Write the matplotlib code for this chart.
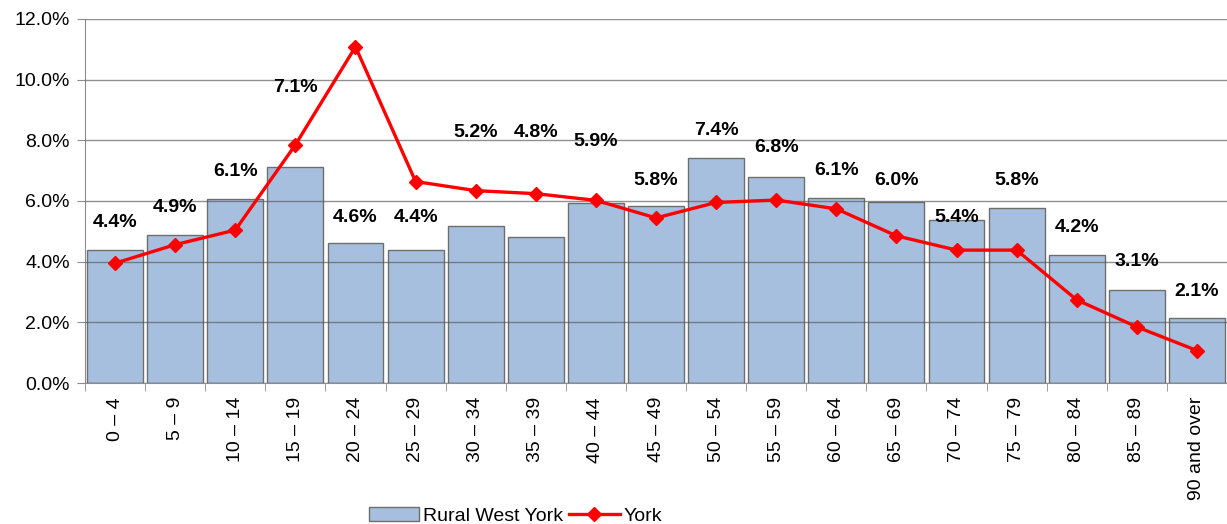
import matplotlib.pyplot as plt
import numpy as np
from matplotlib.ticker import PercentFormatter

plt.rcParams['font.family'] = ['Liberation Sans', 'DejaVu Sans']

age_groups = ['0 – 4', '5 – 9', '10 – 14', '15 – 19', '20 – 24', '25 – 29', '30 – 34',
              '35 – 39', '40 – 44', '45 – 49', '50 – 54', '55 – 59', '60 – 64', '65 – 69',
              '70 – 74', '75 – 79', '80 – 84', '85 – 89', '90 and over']
rural_west_york = [4.37, 4.87, 6.07, 7.12, 4.61, 4.38, 5.17, 4.81, 5.94, 5.83,
                   7.40, 6.80, 6.11, 5.98, 5.37, 5.78, 4.22, 3.08, 2.14]
york = [3.95, 4.56, 5.04, 7.85, 11.08, 6.64, 6.34, 6.24, 6.02, 5.44,
        5.95, 6.03, 5.74, 4.85, 4.38, 4.38, 2.74, 1.85, 1.07]
# where the bar labels sit (in % units), as placed in the original
label_y = [5.28, 5.77, 6.96, 9.73, 5.47, 5.44, 8.24, 8.24, 7.95, 6.69,
           8.31, 7.75, 6.99, 6.69, 5.44, 6.69, 5.11, 3.99, 3.00]

fig = plt.figure(figsize=(12.27, 5.24), dpi=100)
ax = fig.add_axes([0.0693, 0.269, 0.9307, 0.695])

x = np.arange(len(age_groups))
bars = ax.bar(x, rural_west_york, width=0.93, color='#A7BFDE', edgecolor='#6E6E6E',
              linewidth=1, label='Rural West York', zorder=2)
line, = ax.plot(x, york, color='#FF0000', linewidth=2.4, marker='D', markersize=7,
                label='York', zorder=3)

for xi, v, ly in zip(x, rural_west_york, label_y):
    ax.text(xi, ly, f'{v:.1f}%', ha='center', va='center', fontsize=14,
            fontweight='bold', zorder=4)

ax.set_xlim(-0.5, len(age_groups) - 0.5)
ax.set_ylim(0, 12)
ax.set_yticks(np.arange(0, 12.1, 2))
ax.yaxis.set_major_formatter(PercentFormatter(decimals=1))
ax.set_xticks(x)
ax.set_xticklabels(age_groups, rotation=90)
ax.set_xticks(np.arange(-0.5, len(age_groups), 1), minor=True)
ax.tick_params(axis='x', which='major', length=0, pad=10, labelsize=14)
ax.tick_params(axis='x', which='minor', length=6, color='#8C8C8C')
ax.tick_params(axis='y', length=6, color='#8C8C8C', labelsize=14, pad=5)

# gridlines show through the bars in the original
ax.grid(axis='y', color='#555555', alpha=0.65, linewidth=1)
ax.set_axisbelow(False)
for gl in ax.get_ygridlines():
    gl.set_zorder(2.5)
for s in ['top', 'right']:
    ax.spines[s].set_visible(False)
for s in ['left', 'bottom']:
    ax.spines[s].set_color('#8C8C8C')

fig.legend([bars, line], ['Rural West York', 'York'], loc='lower center',
           bbox_to_anchor=(0.42, -0.035), ncol=2, frameon=False,
           fontsize=14, handlelength=2.6, columnspacing=0.3, handletextpad=0.2)

fig.savefig('out.png', dpi=100)
